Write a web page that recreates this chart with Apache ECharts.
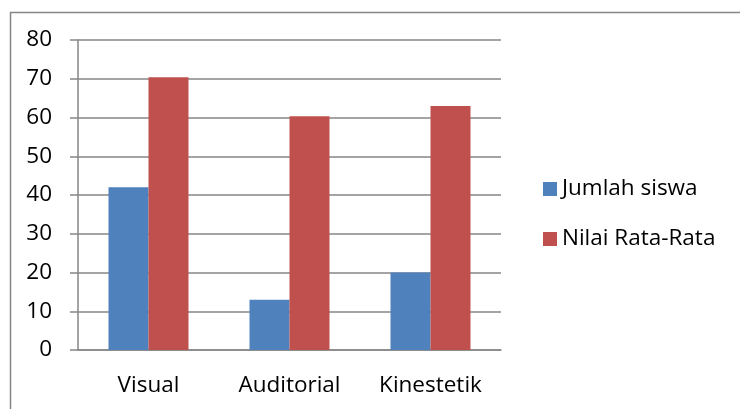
<!DOCTYPE html>
<html>
<head>
<meta charset="utf-8">
<script src="https://cdn.jsdelivr.net/npm/echarts@6/dist/echarts.min.js"></script>
<style>
  html, body { margin: 0; padding: 0; background: #fff; }
  #chart { width: 740px; height: 409px; }
</style>
</head>
<body>
<div id="chart"></div>
<script>
const categories = ['Visual', 'Auditorial', 'Kinestetik'];
const jumlahSiswa = [42, 13, 20];
const nilaiRataRata = [70.4, 60.3, 63];
const seriesNames = ['Jumlah siswa', 'Nilai Rata-Rata'];

const chart = echarts.init(document.getElementById('chart'));
const font = 'Open Sans';
const gray = '#868686';

chart.setOption({
  animation: false,
  color: ['#4F81BD', '#C0504D'],
  graphic: [{
    type: 'rect',
    left: 8, top: 10,
    shape: { width: 760, height: 420 },
    style: { fill: 'none', stroke: gray, lineWidth: 1.5 },
    silent: true
  }],
  grid: { left: 78, right: 239, top: 40, bottom: 59, containLabel: false },
  legend: {
    orient: 'vertical',
    left: 543,
    top: 177,
    padding: 0,
    itemWidth: 14,
    itemHeight: 14,
    itemGap: 26,
    icon: 'rect',
    textStyle: { fontFamily: font, fontSize: 22.5, lineHeight: 24, color: '#000' },
    data: seriesNames
  },
  xAxis: {
    type: 'category',
    data: categories,
    axisLine: { lineStyle: { color: gray, width: 1.5 } },
    axisTick: { length: 8, lineStyle: { color: gray, width: 1.5 } },
    axisLabel: { fontFamily: font, fontSize: 22.5, color: '#000', margin: 24 }
  },
  yAxis: {
    type: 'value',
    min: 0, max: 80, interval: 10,
    axisLine: { show: true, lineStyle: { color: gray, width: 1.5 } },
    axisTick: { show: true, length: 8, lineStyle: { color: gray, width: 1.5 } },
    axisLabel: { fontFamily: font, fontSize: 22.5, color: '#000', margin: 26 },
    splitLine: { lineStyle: { color: gray, width: 1.5 } }
  },
  series: [
    { name: seriesNames[0], type: 'bar', data: jumlahSiswa, barWidth: 40, barGap: '0%', barCategoryGap: '43%' },
    { name: seriesNames[1], type: 'bar', data: nilaiRataRata, barWidth: 40, barGap: '0%', barCategoryGap: '43%' }
  ]
});
</script>
</body>
</html>
